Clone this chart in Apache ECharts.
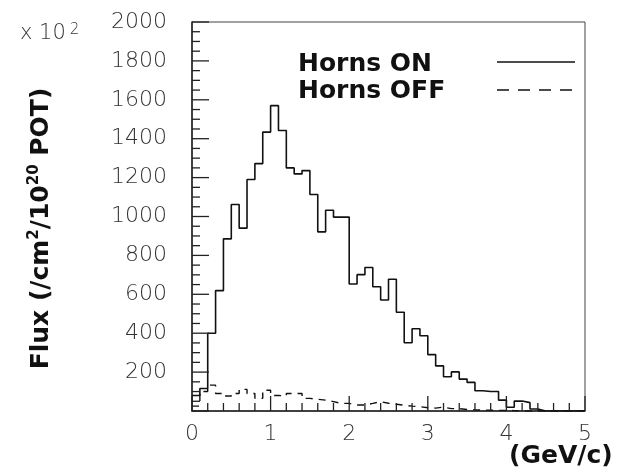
<!DOCTYPE html>
<html>
<head>
<meta charset="utf-8">
<script src="https://cdn.jsdelivr.net/npm/echarts@6/dist/echarts.min.js"></script>
<style>
  html, body { margin: 0; padding: 0; background: #fff; }
  #main { width: 630px; height: 472px; }
</style>
</head>
<body>
<div id="main"></div>
<script>
// bin low edges in GeV/c (0.1 wide), last entry closes the histogram
var binEdges = [0, 0.1, 0.2, 0.3, 0.4, 0.5, 0.6, 0.7, 0.8, 0.9,
  1.0, 1.1, 1.2, 1.3, 1.4, 1.5, 1.6, 1.7, 1.8, 1.9,
  2.0, 2.1, 2.2, 2.3, 2.4, 2.5, 2.6, 2.7, 2.8, 2.9,
  3.0, 3.1, 3.2, 3.3, 3.4, 3.5, 3.6, 3.7, 3.8, 3.9,
  4.0, 4.1, 4.2, 4.3, 4.4, 4.5, 4.6, 4.7, 4.8, 4.9, 5.0];

// flux, x 10^2 /cm2/10^20 POT
var hornsOn = [80, 116, 400, 619, 885, 1062, 940, 1190, 1272, 1434,
  1570, 1442, 1250, 1219, 1236, 1113, 921, 1032, 997, 997,
  653, 701, 738, 639, 571, 677, 508, 351, 423, 387,
  290, 232, 176, 201, 164, 147, 104, 100, 100, 56,
  19, 51, 43, 10, 0, 0, 0, 0, 0, 0];

var hornsOff = [25, 100, 133, 90, 77, 90, 111, 90, 65, 107,
  80, 77, 90, 90, 65, 60, 56, 48, 39, 39,
  31, 31, 39, 48, 40, 35, 30, 25, 22, 17,
  15, 20, 12, 12, 8, 6, 5, 4, 3, 3,
  2, 0, 0, 0, 0, 0, 0, 0, 0, 0];

var xTicks = [0, 1, 2, 3, 4, 5];
var yTicks = [0, 200, 400, 600, 800, 1000, 1200, 1400, 1600, 1800, 2000];
var xMinorStep = 0.2;
var yMinorStep = 50;

function toSteps(vals) {
  var pts = [];
  for (var i = 0; i < vals.length; i++) {
    pts.push([binEdges[i], vals[i]]);
  }
  // close last bin at its upper edge
  pts.push([binEdges[vals.length], vals[vals.length - 1]]);
  return pts;
}

// tick marks as [value, isMajor]
function tickList(major, step) {
  var out = [];
  for (var i = 0; i < major.length; i++) {
    out.push([major[i], 1]);
    if (i < major.length - 1) {
      var n = Math.round((major[i + 1] - major[i]) / step);
      for (var k = 1; k < n; k++) {
        out.push([+(major[i] + k * step).toFixed(3), 0]);
      }
    }
  }
  return out;
}

var myChart = echarts.init(document.getElementById("main"));

// legend drawn by hand: bold labels with a line sample on the right
var legendEls = [
  {
    type: "text", left: 298, top: 52,
    style: { text: "Horns ON", font: "bold 25px 'DejaVu Sans'", fill: "#111" }
  },
  {
    type: "text", left: 298, top: 79,
    style: { text: "Horns OFF", font: "bold 25px 'DejaVu Sans'", fill: "#111" }
  },
  {
    type: "line",
    shape: { x1: 497, y1: 62, x2: 575, y2: 62 },
    style: { stroke: "#111", lineWidth: 1.4 }
  },
  {
    type: "line",
    shape: { x1: 497, y1: 90, x2: 575, y2: 90 },
    style: { stroke: "#111", lineWidth: 1.4, lineDash: [12, 9] }
  }
];

var option = {
  animation: false,
  title: [
    {
      text: "x 10{s|2}",
      left: 15,
      top: 18,
      textStyle: {
        fontFamily: "DejaVu Sans", fontSize: 21, fontWeight: "lighter", color: "#333",
        rich: {
          s: { fontFamily: "DejaVu Sans", fontSize: 15, fontWeight: "lighter", color: "#333",
            verticalAlign: "top", lineHeight: 22, padding: [0, 0, 0, 4] }
        }
      }
    },
    {
      text: "(GeV/c)",
      left: 504,
      top: 439,
      textStyle: { fontFamily: "DejaVu Sans", fontSize: 25, fontWeight: "bold", color: "#111" }
    }
  ],
  grid: {
    left: 192,
    right: 45,
    top: 22,
    bottom: 61,
    show: true,
    borderColor: "#444",
    borderWidth: 1
  },
  xAxis: {
    type: "value",
    min: xTicks[0],
    max: xTicks[xTicks.length - 1],
    interval: 1,
    axisLine: { show: true, onZero: false, lineStyle: { color: "#222", width: 1.5 } },
    axisTick: { show: false },
    splitLine: { show: false },
    axisLabel: { margin: 12, fontFamily: "DejaVu Sans", fontSize: 22, fontWeight: "lighter", color: "#333" }
  },
  yAxis: {
    type: "value",
    min: yTicks[0],
    max: yTicks[yTicks.length - 1],
    interval: 200,
    name: "Flux (/cm{s|2}/10{s|20} POT)",
    nameLocation: "middle",
    nameRotate: 90,
    nameGap: 137,
    nameTextStyle: {
      fontFamily: "DejaVu Sans", fontSize: 25, fontWeight: "bold", color: "#111",
      padding: [0, 24, 0, 0],
      rich: {
        s: { fontFamily: "DejaVu Sans", fontSize: 15, fontWeight: "bold", color: "#111",
          verticalAlign: "top", lineHeight: 28 }
      }
    },
    axisLine: { show: true, onZero: false, lineStyle: { color: "#222", width: 1.5 } },
    axisTick: { show: false },
    splitLine: { show: false },
    axisLabel: {
      margin: 25, fontFamily: "DejaVu Sans", fontSize: 22, fontWeight: "lighter", color: "#333",
      formatter: function (v) { return v === 0 ? "" : String(v); }
    }
  },
  series: [
    {
      name: "Horns ON",
      type: "line",
      step: "end",
      symbol: "none",
      data: toSteps(hornsOn),
      lineStyle: { color: "#111", width: 1.6 }
    },
    {
      name: "Horns OFF",
      type: "line",
      step: "end",
      symbol: "none",
      data: toSteps(hornsOff),
      lineStyle: { color: "#111", width: 1.4, type: [7, 6] }
    }
  ],
  graphic: legendEls
};

myChart.setOption(option);

// inward ticks: positions come from the axis scales after the first layout
var tickEls = [];
tickList(xTicks, xMinorStep).forEach(function (t) {
  var p = myChart.convertToPixel({ gridIndex: 0 }, [t[0], yTicks[0]]);
  var len = t[1] ? 15 : 8;
  tickEls.push({
    type: "line", z: 10,
    shape: { x1: p[0], y1: p[1], x2: p[0], y2: p[1] - len },
    style: { stroke: "#222", lineWidth: 1.3 }
  });
});
tickList(yTicks, yMinorStep).forEach(function (t) {
  var p = myChart.convertToPixel({ gridIndex: 0 }, [xTicks[0], t[0]]);
  var len = t[1] ? 17 : 8;
  tickEls.push({
    type: "line", z: 10,
    shape: { x1: p[0], y1: p[1], x2: p[0] + len, y2: p[1] },
    style: { stroke: "#222", lineWidth: 1.3 }
  });
});

myChart.setOption({ graphic: legendEls.concat(tickEls) });
</script>
</body>
</html>
